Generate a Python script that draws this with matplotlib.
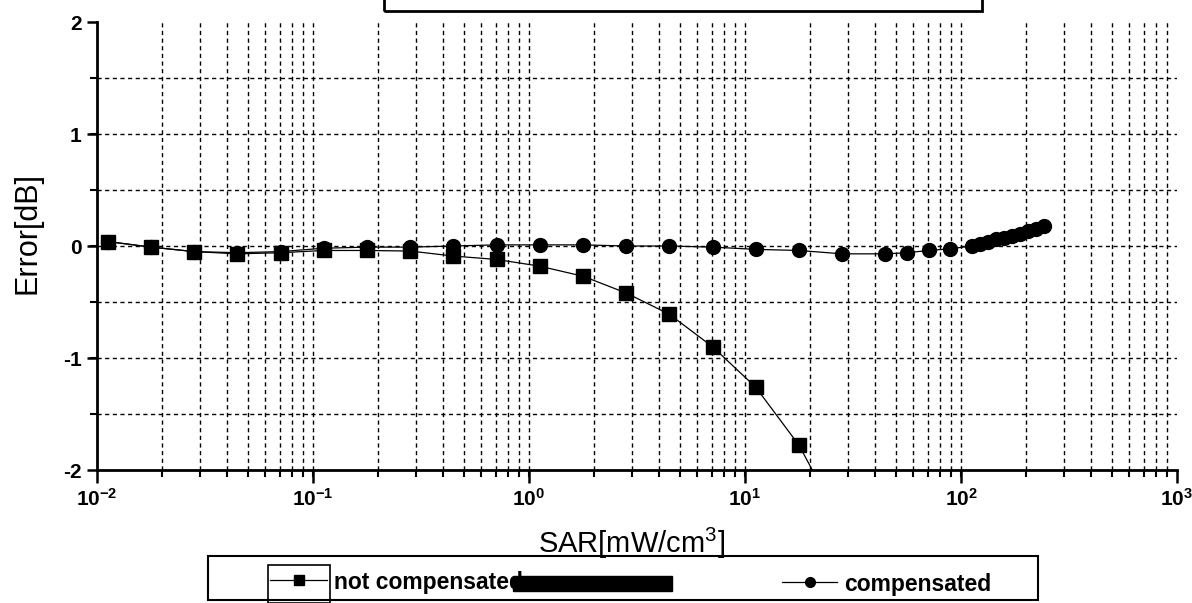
import matplotlib
matplotlib.use('Agg')
import matplotlib.pyplot as plt
from matplotlib.ticker import FixedLocator, NullFormatter
from matplotlib.patches import Rectangle

plt.rcParams['font.family'] = ['Liberation Sans', 'DejaVu Sans']
plt.rcParams['mathtext.default'] = 'regular'
plt.rcParams['axes.unicode_minus'] = False

# values
sar_not = [0.0112, 0.0178, 0.0282, 0.0447, 0.0708, 0.112, 0.178, 0.282, 0.447,
           0.708, 1.12, 1.78, 2.82, 4.47, 7.08, 11.2, 17.8, 28.2]
err_not = [0.04, -0.01, -0.05, -0.07, -0.06, -0.04, -0.04, -0.045, -0.09,
           -0.12, -0.18, -0.27, -0.42, -0.61, -0.90, -1.26, -1.78, -2.5]

sar_comp = [0.0112, 0.0178, 0.0282, 0.0447, 0.0708, 0.112, 0.178, 0.282, 0.447,
            0.708, 1.12, 1.78, 2.82, 4.47, 7.08, 11.2, 17.8, 28.2, 44.7, 56.2,
            70.8, 89.1, 112, 122, 133, 145, 158, 172, 187, 204, 222, 242]
err_comp = [0.04, -0.01, -0.05, -0.06, -0.05, -0.02, -0.01, -0.01, 0.0,
            0.01, 0.01, 0.01, 0.0, 0.0, -0.01, -0.03, -0.04, -0.07, -0.07, -0.06,
            -0.04, -0.025, 0.0, 0.02, 0.04, 0.06, 0.075, 0.09, 0.11, 0.13, 0.15, 0.175]

x_ticks = [0.01, 0.1, 1, 10, 100, 1000]
x_tick_labels = ['10$^{-2}$', '10$^{-1}$', '10$^{0}$', '10$^{1}$', '10$^{2}$', '10$^{3}$']
y_ticks = [-2, -1, 0, 1, 2]
y_tick_labels = ['-2', '-1', '0', '1', '2']
y_grid = [-1.5, -1, -0.5, 0, 0.5, 1, 1.5]

W, H = 1192, 603
fig = plt.figure(figsize=(W / 100, H / 100), dpi=100)
ax = fig.add_axes([97 / W, 1 - 470 / H, (1177 - 97) / W, 448 / H])

ln_comp, = ax.plot(sar_comp, err_comp, '-o', color='k', lw=0.9, ms=10, zorder=3)
ln_not, = ax.plot(sar_not, err_not, '-s', color='k', lw=0.9, ms=10, zorder=4)

ax.set_xscale('log')
ax.set_xlim(0.01, 1000)
ax.set_ylim(-2, 2)

# minor x grid at 2..9 of each decade plus the inner decades
x_minor = [k * 10.0 ** e for e in range(-2, 3) for k in range(2, 10)] + [0.1, 1, 10, 100]
ax.xaxis.set_minor_locator(FixedLocator(x_minor))
ax.xaxis.set_minor_formatter(NullFormatter())
ax.xaxis.remove_overlapping_locs = False
ax.set_xticks(x_ticks, labels=x_tick_labels, fontweight='bold', fontsize=15)

ax.yaxis.set_minor_locator(FixedLocator(y_grid))
ax.yaxis.remove_overlapping_locs = False
ax.set_yticks(y_ticks, labels=y_tick_labels, fontweight='bold', fontsize=15)

ax.grid(False)
ax.grid(True, which='minor', color='k', linestyle=(0, (3, 2.5)), linewidth=1.0)
ax.set_axisbelow(True)

for s in ['top', 'right']:
    ax.spines[s].set_visible(False)
for s in ['left', 'bottom']:
    ax.spines[s].set_linewidth(2.0)

ax.tick_params(axis='x', which='major', direction='out', length=9, width=1.8, pad=4)
ax.tick_params(axis='x', which='minor', direction='out', length=5, width=1.5)
ax.tick_params(axis='y', which='major', direction='out', length=7, width=1.8, pad=4)
ax.tick_params(axis='y', which='minor', direction='out', length=5, width=1.5)

ax.set_xlabel('SAR[mW/cm$^3$]', fontsize=21)
ax.xaxis.set_label_coords(0.495, -0.125)
ax.set_ylabel('Error[dB]', fontsize=22)
ax.yaxis.set_label_coords(-0.05, 0.53)

# legend frame, handle box and the blacked-out strip from the scan
fig.patches.append(Rectangle((208 / W, 1 - 600 / H), (1038 - 208) / W, 44 / H,
                             transform=fig.transFigure, fill=False, ec='k', lw=1.5))
fig.patches.append(Rectangle((268 / W, 1 - 603 / H), (330 - 268) / W, 38 / H,
                             transform=fig.transFigure, fill=False, ec='k', lw=1.2))
fig.patches.append(Rectangle((513 / W, 1 - 591 / H), (672 - 513) / W, 15 / H,
                             transform=fig.transFigure, fc='k', ec='k', zorder=5))
# empty title box cut off at the top
fig.patches.append(Rectangle((384 / W, 1 - 11 / H), (982 - 384) / W, 0.1,
                             transform=fig.transFigure, fill=False, ec='k', lw=2))

fig.legend([ln_not], ['not compensated'], loc='center left',
           bbox_to_anchor=(270 / W, 1 - 582 / H), frameon=False,
           prop=dict(weight='bold', size=16.5), handlelength=2.5, handletextpad=0.3,
           borderpad=0, borderaxespad=0, markerscale=0.7)
fig.legend([ln_comp], ['compensated'], loc='center left',
           bbox_to_anchor=(782 / W, 1 - 584 / H), frameon=False,
           prop=dict(weight='bold', size=16.5), handlelength=2.4, handletextpad=0.3,
           borderpad=0, borderaxespad=0, markerscale=0.7)

fig.savefig('out.png', dpi=100)
